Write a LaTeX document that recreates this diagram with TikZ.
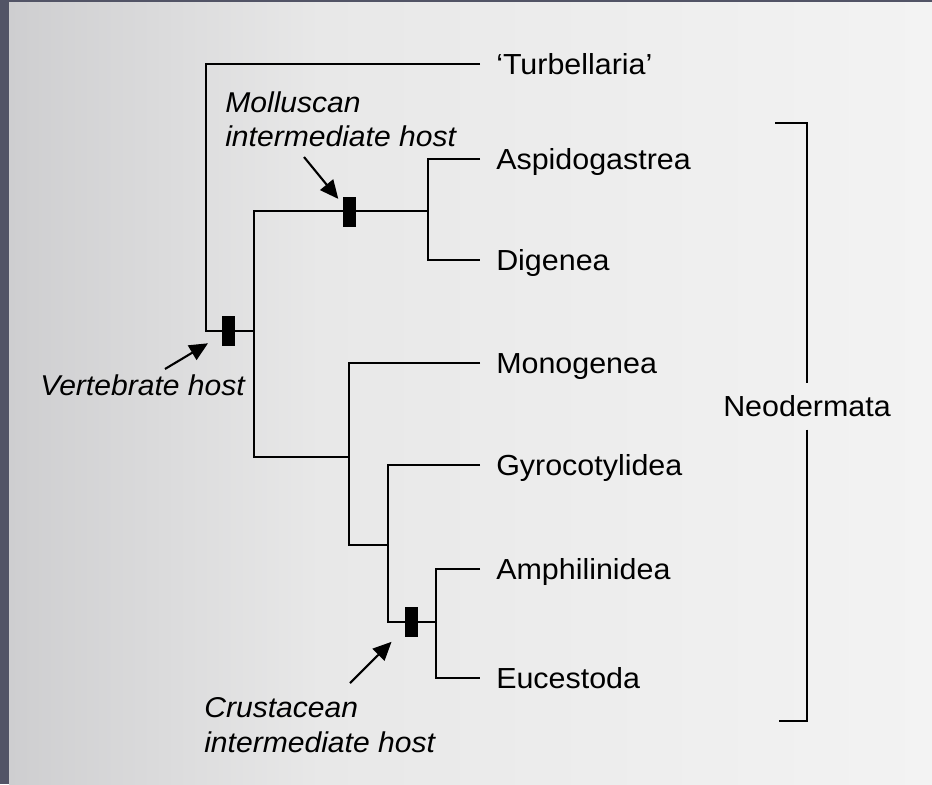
\documentclass[tikz,border=0pt]{standalone}
\usepackage{fontspec}
\setmainfont{Liberation Sans}[FakeStretch=1.05]
\usetikzlibrary{arrows.meta,positioning}
\definecolor{scanedge}{RGB}{82,84,102}
\definecolor{pageleft}{RGB}{206,206,208}
\definecolor{pagemid}{RGB}{232,232,232}
\definecolor{pageright}{RGB}{243,243,243}

\begin{document}
\begin{tikzpicture}[x=0.02cm, y=-0.02cm, line width=1.5pt,
  every node/.style={font=\fontsize{16.5pt}{20pt}\selectfont},
  taxon/.style={anchor=west, inner xsep=8.5pt, inner ysep=0pt, text height=11.8pt, text depth=0pt},
  host/.style={font=\fontsize{16.3pt}{19.8pt}\selectfont\itshape, align=left, inner sep=0pt},
  synapo/.style={rectangle, fill=black, inner sep=0pt, outer sep=0pt, minimum width=7.4pt, minimum height=17.6pt},
  hostarrow/.style={-{Triangle[length=10.5pt,width=9.5pt]}, line width=1.2pt}]
\useasboundingbox (0,0) rectangle (932,784);
\fill[scanedge] (0,0) rectangle (932,784);
\shade[left color=pageleft, right color=pagemid] (9,3) rectangle (320,784);
\shade[left color=pagemid, right color=pageright] (320,3) rectangle (932,784);

% taxa
\node[taxon] (turb) at (480,64) {`Turbellaria'};
\node[taxon] (aspi) at (480,159) {Aspidogastrea};
\node[taxon] (dige) at (480,260) {Digenea};
\node[taxon] (mono) at (480,363) {Monogenea};
\node[taxon] (gyro) at (480,465) {Gyrocotylidea};
\node[taxon] (amph) at (480,569) {Amphilinidea};
\node[taxon] (euce) at (480,678) {Eucestoda};

% branching points
\coordinate (root) at (206,331);
\coordinate (neo) at (254,331);
\coordinate (trema) at (428,211);
\coordinate (cerco) at (349,457);
\coordinate (cesto) at (388,545);
\coordinate (eucest) at (436,622);

\draw (turb.west) -| (root) -- (neo);
\draw (aspi.west) -| (trema) |- (dige.west);
\draw (trema) -| (neo) |- (cerco);
\draw (mono.west) -| (cerco) |- (cesto);
\draw (gyro.west) -| (cesto) |- (eucest);
\draw (amph.west) -| (eucest) |- (euce.west);

% host changes
\node[synapo] (vbar) at (228.5,331) {};
\node[synapo] (mbar) at (349,212) {};
\node[synapo] (cbar) at (411.5,622) {};

\node[host, anchor=north west] (mollusc) at (224,90) {Molluscan\\intermediate host};
\node[host, anchor=base west] (vert) at (39,395) {Vertebrate host};
\node[host, anchor=north west] (crust) at (203,696) {Crustacean\\intermediate host};

\coordinate (mtail) at (304,157);
\coordinate (vtail) at (165,369);
\coordinate (ctail) at (350,683);
\draw[hostarrow, shorten >=3.8pt] (mtail) -- (mbar);
\draw[hostarrow, shorten >=9.3pt] (vtail) -- (vbar);
\draw[hostarrow, shorten >=10.8pt] (ctail) -- (cbar);

% clade bracket
\node[taxon, anchor=center, inner xsep=0pt, inner ysep=6.5pt] (neoder) at (807,406.5) {Neodermata};
\coordinate (cladetop) at (775,123);
\coordinate (cladebot) at (779,721);
\draw (cladetop) -| (neoder.north);
\draw (neoder.south) |- (cladebot);
\end{tikzpicture}
\end{document}
